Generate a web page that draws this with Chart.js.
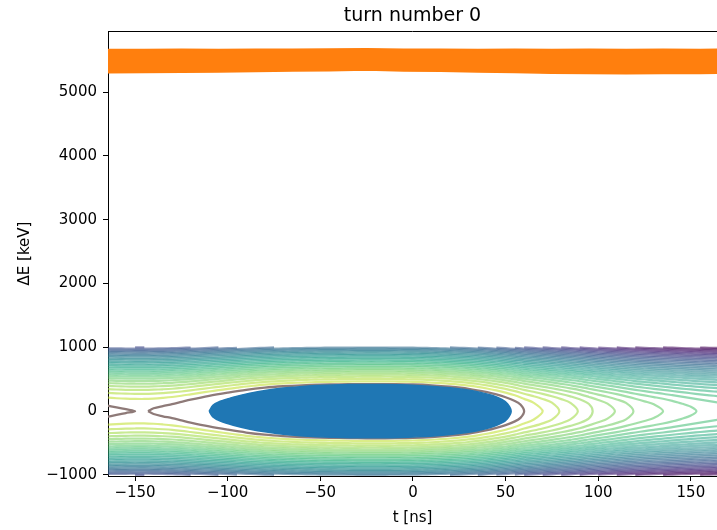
<!DOCTYPE html>
<html>
<head>
<meta charset="utf-8">
<script src="https://cdn.jsdelivr.net/npm/chart.js@4/dist/chart.umd.min.js"></script>
<style>
html, body { margin: 0; padding: 0; background: #fff; }
</style>
</head>
<body>
<canvas id="c" width="717" height="530"></canvas>
<script>
'use strict';
var xTicks = [-150, -100, -50, 0, 50, 100, 150];
var yTicks = [-1000, 0, 1000, 2000, 3000, 4000, 5000];

// orange bunch: upper and lower edge [keV]
var bandT = [-165, -145, -125, -105, -85, -65, -45, -25, -5, 15, 35, 55, 75, 95, 115, 135, 155, 165];
var bandTop = [5668, 5665, 5670, 5668, 5672, 5670, 5674, 5678, 5672, 5670, 5668, 5672, 5665, 5670, 5668, 5672, 5665, 5670];
var bandBottom = [5300, 5305, 5310, 5315, 5322, 5330, 5335, 5345, 5330, 5325, 5315, 5305, 5295, 5290, 5288, 5292, 5290, 5295];

// blue bunch, upper edge (lower edge is the mirror)
var bunchT = [-110, -108, -104, -97, -88, -79, -70, -61, -52, -43, -34, -25, -16, -7, 2, 11, 20, 29, 36, 43, 48, 51, 53];
var bunchDE = [0, 90, 155, 220, 282, 328, 362, 384, 400, 410, 416, 418, 417, 413, 403, 388, 366, 334, 298, 245, 185, 118, 0];

// separatrix, upper half
var sepT = [-143, -140, -135, -130, -125, -120, -110, -100, -90, -80, -70, -60, -50, -40, -30, -20, -10, 0, 10, 20, 30, 40, 45, 50, 55, 58, 60];
var sepDE = [0, 45, 80, 110, 145, 180, 240, 290, 335, 368, 390, 405, 415, 420, 424, 425, 423, 418, 405, 383, 350, 298, 262, 218, 160, 105, 0];
var sepLeftT = [-166, -160, -155, -150];
var sepLeftDE = [92, 60, 30, 0];

// potential well along t [1000 keV^2], used for the other contour lines
var wellT = [-165, -160, -155, -150, -145, -140, -135, -130, -125, -120, -115, -110, -105, -100, -95, -90, -85, -80, -75, -70, -65, -60, -55, -50, -45, -40, -35, -30, -25, -20, -15, -10, -5, 0, 5, 10, 15, 20, 25, 30, 35, 40, 45, 50, 55, 60, 65, 70, 75, 80, 85, 90, 95, 100, 105, 110, 115, 120, 125, 130, 135, 140, 145, 150, 155, 160, 165];
var wellV = [172.5, 176.6, 179.5, 180.9, 181.2, 178.6, 174.2, 168.5, 159.6, 148.2, 135.7, 123.0, 109.8, 96.5, 82.6, 68.4, 56.7, 45.2, 36.2, 28.5, 22.2, 16.6, 12.5, 8.4, 5.9, 4.2, 2.5, 0.8, 0, 0, 0.8, 1.7, 3.4, 5.9, 10.9, 16.6, 24.6, 33.9, 45.2, 58.1, 73.7, 91.8, 112.0, 133.1, 156.0, 180.6, 199.5, 218.0, 237.0, 256.0, 275.0, 294.0, 316.0, 335.0, 352.0, 369.0, 386.0, 402.0, 416.0, 428.0, 439.0, 451.0, 462.0, 472.0, 481.0, 489.0, 496.0];
// where the closed outer contours cross dE = 0 on the right
var tipT = [70, 79, 89, 97, 109, 119, 135, 153];
var sepLevel = 180.6;
var levelStep = 37;
var nLevels = 35;

var viridis = ['#440154', '#482475', '#414487', '#355f8d', '#2a788e', '#21918c', '#22a884', '#44bf70', '#7ad151', '#bddf26', '#fde725'];
function cmap(p, alpha) {
  var f = p * (viridis.length - 1);
  var i = Math.min(Math.floor(f), viridis.length - 2);
  var r = f - i;
  var a = viridis[i], b = viridis[i + 1];
  var c = [1, 3, 5].map(function (j) {
    var u = parseInt(a.substr(j, 2), 16), v = parseInt(b.substr(j, 2), 16);
    return Math.round(u + (v - u) * r);
  });
  return 'rgba(' + c[0] + ',' + c[1] + ',' + c[2] + ',' + alpha + ')';
}

function pts(ts, es, sign) {
  return ts.map(function (t, i) { return {x: t, y: sign * es[i]}; });
}
function mirror(p) {
  return p.slice().reverse().map(function (q) { return {x: q.x, y: -q.y}; });
}

function line(data, color, width) {
  return {
    data: data,
    showLine: true,
    borderColor: color,
    borderWidth: width,
    pointRadius: 0,
    tension: 0.3,
    fill: false
  };
}

var datasets = [];

// orange bunch
datasets.push({
  data: pts(bandT, bandTop, 1), showLine: true, borderColor: '#ff7f0e', borderWidth: 1.5,
  backgroundColor: '#ff7f0e', pointRadius: 0, fill: '+1'
});
datasets.push({
  data: pts(bandT, bandBottom, 1), showLine: true, borderColor: '#ff7f0e', borderWidth: 1.5,
  pointRadius: 0, fill: false
});

// blue bunch, one closed outline
var bunchUp = pts(bunchT, bunchDE, 1);
datasets.push({
  data: bunchUp.concat(mirror(bunchUp).slice(1)), showLine: true, borderColor: '#1f77b4', borderWidth: 1.5,
  backgroundColor: '#1f77b4', pointRadius: 0, tension: 0.3, fill: 'shape'
});

// separatrix
var sepUp = pts(sepT, sepDE, 1);
datasets.push(line(sepUp.concat(mirror(sepUp).slice(1)), '#8e7a78', 2.3));
var sepL = pts(sepLeftT, sepLeftDE, 1);
datasets.push(line(sepL.concat(mirror(sepL).slice(1)), '#8e7a78', 2.3));

// outer contour lines
function branch(h, tip) {
  var segs = [], cur = [];
  for (var i = 0; i < wellT.length; i++) {
    var t = wellT[i];
    if (tip !== null && t >= tip) break;
    var d = h - wellV[i];
    var e = d >= 0 ? Math.sqrt(d * 1000) : NaN;
    if (e >= 0 && e <= 1000) {
      cur.push({x: t, y: e});
    } else {
      if (cur.length) segs.push(cur);
      cur = [];
    }
  }
  if (cur.length) segs.push(cur);
  return segs;
}

for (var k = 1; k <= nLevels; k++) {
  var h = sepLevel + k * levelStep;
  var color = cmap(0.9 * (1 - (k - 1) / (nLevels - 1)), 0.55);
  var tip = k <= tipT.length ? tipT[k - 1] : null;
  var segs = branch(h, tip);
  if (tip !== null) {
    var up = segs[0].concat([{x: tip, y: 0}]);
    datasets.push(line(up.concat(mirror(up).slice(1)), color, 2.2));
  } else {
    segs.forEach(function (sg) {
      datasets.push(line(sg, color, 2.2));
      datasets.push(line(mirror(sg), color, 2.2));
    });
  }
}

function minus(v) {
  return v < 0 ? '\u2212' + Math.abs(v) : '' + v;
}

var topSpine = {
  id: 'topSpine',
  afterDraw: function (chart) {
    var a = chart.chartArea, ctx = chart.ctx;
    ctx.save();
    ctx.strokeStyle = '#000';
    ctx.lineWidth = 1;
    ctx.beginPath();
    ctx.moveTo(a.left, a.top + 0.5);
    ctx.lineTo(a.right, a.top + 0.5);
    ctx.stroke();
    ctx.restore();
  }
};

Chart.defaults.font.family = 'DejaVu Sans';
Chart.defaults.color = '#000';

var ctx = document.getElementById('c').getContext('2d');
new Chart(ctx, {
  type: 'scatter',
  data: {datasets: datasets},
  options: {
    responsive: false,
    animation: false,
    events: [],
    layout: {padding: 0},
    plugins: {
      legend: {display: false},
      tooltip: {enabled: false}
    },
    scales: {
      x: {
        type: 'linear',
        min: -164.6,
        max: 164.1,
        z: 1,
        afterBuildTicks: function (s) { s.ticks = xTicks.map(function (v) { return {value: v}; }); },
        afterFit: function (s) { s.height = 54; },
        ticks: {font: {size: 15}, padding: 3, callback: minus, maxRotation: 0},
        grid: {drawOnChartArea: false, tickLength: 5, color: '#000', tickColor: '#000'},
        border: {display: true, color: '#000', width: 1},
        title: {display: true, text: 't [ns]', font: {size: 15}, padding: {top: 0, bottom: 3}}
      },
      top: {
        type: 'linear',
        position: 'top',
        min: -164.6,
        max: 164.1,
        afterFit: function (s) { s.height = 31; },
        ticks: {display: false},
        grid: {display: false, drawTicks: false},
        border: {display: false},
        title: {display: true, text: 'turn number 0', font: {size: 19}, padding: {top: 5, bottom: 0}}
      },
      y: {
        type: 'linear',
        min: -1016,
        max: 5956,
        z: 1,
        afterBuildTicks: function (s) { s.ticks = yTicks.map(function (v) { return {value: v}; }); },
        afterFit: function (s) { s.width = 108; },
        ticks: {font: {size: 15}, padding: 6, callback: minus},
        grid: {drawOnChartArea: false, tickLength: 5, color: '#000', tickColor: '#000'},
        border: {display: true, color: '#000', width: 1},
        title: {display: true, text: '\u0394E [keV]', font: {size: 15}, padding: {top: 16, bottom: 0}}
      }
    }
  },
  plugins: [topSpine]
});
</script>
</body>
</html>
